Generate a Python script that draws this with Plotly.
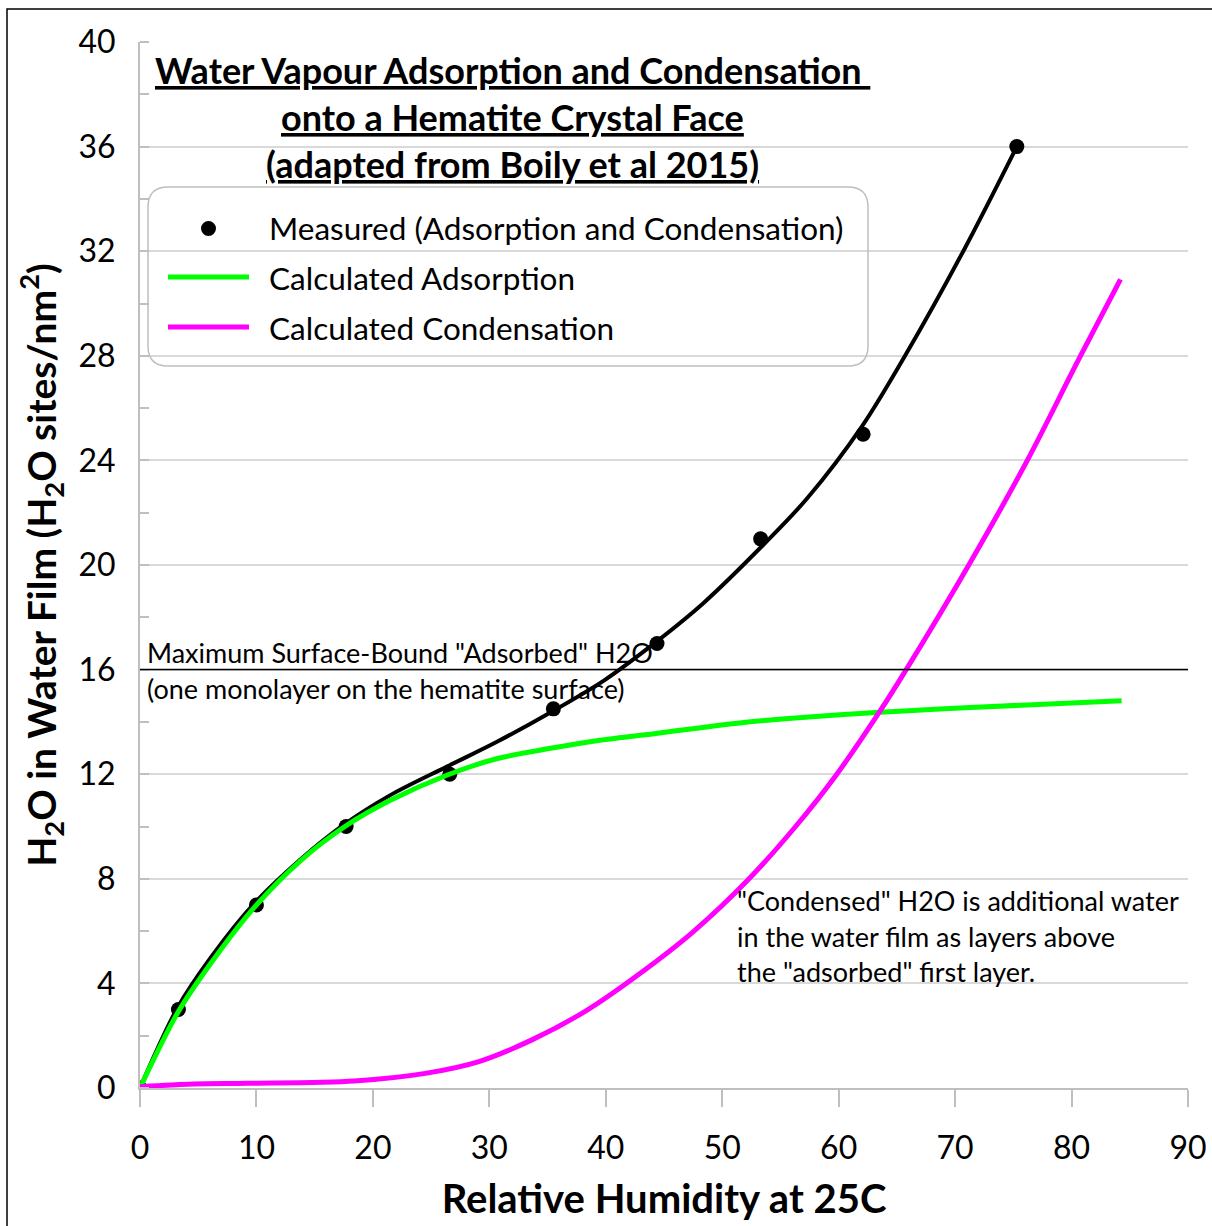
import plotly.graph_objects as go

# Measured water uptake (Adsorption and Condensation)
rh_measured = [0, 3.3, 10.0, 17.7, 26.6, 35.5, 44.4, 53.3, 62.1, 75.3]
h2o_measured = [0, 3.0, 7.0, 10.0, 12.0, 14.5, 17.0, 21.0, 25.0, 36.0]

# Smoothed curve through the measured uptake
rh_trend = [0, 3.2, 6.1, 9.8, 13.8, 17.6, 21.5, 26.4, 30.7, 35.4, 39.9, 44.3,
            48.4, 53.7, 57.3, 62.0, 65.7, 70.7, 75.3]
h2o_trend = [0, 3.05, 5.0, 7.05, 8.75, 10.1, 11.2, 12.3, 13.25, 14.4, 15.6,
             17.05, 18.55, 20.85, 22.55, 25.3, 28.0, 32.0, 36.0]

# Calculated adsorption
rh_ads = [0, 3.2, 6.1, 9.8, 13.8, 17.6, 21.5, 26.4, 30.7, 35.4, 39.5, 44.3,
          48.0, 51.3, 55.4, 63.2, 71.3, 84.3]
h2o_ads = [0, 2.85, 4.78, 6.9, 8.7, 10.0, 11.0, 11.97, 12.6, 13.0, 13.3,
           13.56, 13.77, 13.95, 14.12, 14.36, 14.55, 14.81]

# Calculated condensation
rh_cond = [0, 4.6, 9.2, 18.4, 24.5, 29.1, 33.7, 38.3, 42.7, 47.45, 52.2, 56.3,
           59.84, 63.6, 65.8, 71.3, 76.2, 80.6, 84.2]
h2o_cond = [0.05, 0.15, 0.18, 0.27, 0.56, 1.01, 1.85, 2.95, 4.3, 5.95, 7.95,
            10.0, 12.0, 14.45, 16.0, 20.1, 24.0, 27.85, 30.92]

monolayer = 16

x_ticks = list(range(0, 91, 10))
y_ticks = list(range(0, 41, 4))

title_lines = [
    "Water Vapour Adsorption and Condensation ",
    "onto a Hematite Crystal Face",
    "(adapted from Boily et al 2015)",
]
legend_names = [
    "Measured (Adsorption and Condensation)",
    "Calculated Adsorption",
    "Calculated Condensation",
]
monolayer_lines = [
    'Maximum Surface-Bound "Adsorbed" H2O',
    "(one monolayer on the hematite surface)",
]
note_lines = [
    '"Condensed" H2O is additional water',
    "in the water film as layers above",
    'the "adsorbed" first layer.',
]

FONT = "Lato"
W, H = 1212, 1226
L, R, T, B = 140, 24, 42, 138
PW, PH = W - L - R, H - T - B


def xp(px):
    return (px - L) / PW


def yp(py):
    return (H - B - py) / PH


fig = go.Figure()

fig.add_trace(go.Scatter(
    x=rh_trend, y=h2o_trend, mode="lines",
    line=dict(color="black", width=4, shape="spline", smoothing=0.9),
    showlegend=False, hoverinfo="skip"))
fig.add_trace(go.Scatter(
    x=rh_measured, y=h2o_measured, mode="markers", name=legend_names[0],
    marker=dict(color="black", size=15), showlegend=False))
fig.add_trace(go.Scatter(
    x=rh_ads, y=h2o_ads, mode="lines", name=legend_names[1],
    line=dict(color="#00ff00", width=5, shape="spline", smoothing=0.9), showlegend=False))
fig.add_trace(go.Scatter(
    x=rh_cond, y=h2o_cond, mode="lines", name=legend_names[2],
    line=dict(color="#ff00ff", width=5, shape="spline", smoothing=0.9), showlegend=False))

shapes = []
annotations = []

# outer frame
shapes.append(dict(type="rect", xref="paper", yref="paper",
                   x0=xp(7), y0=yp(9), x1=xp(W + 20), y1=yp(H + 20),
                   line=dict(color="black", width=1.5), layer="below"))

# monolayer line
shapes.append(dict(type="line", xref="x", yref="y", x0=0, x1=90,
                   y0=monolayer, y1=monolayer, line=dict(color="black", width=1.5)))

# legend box with rounded corners
bx0, by0, bx1, by1, rad = 148, 187, 868, 366, 20
rx, ry = rad / PW, rad / PH
X0, X1, Y0, Y1 = xp(bx0), xp(bx1), yp(by0), yp(by1)
path = (f"M {X0 + rx},{Y0} L {X1 - rx},{Y0} Q {X1},{Y0} {X1},{Y0 - ry} "
        f"L {X1},{Y1 + ry} Q {X1},{Y1} {X1 - rx},{Y1} "
        f"L {X0 + rx},{Y1} Q {X0},{Y1} {X0},{Y1 + ry} "
        f"L {X0},{Y0 - ry} Q {X0},{Y0} {X0 + rx},{Y0} Z")
shapes.append(dict(type="path", xref="paper", yref="paper", path=path,
                   line=dict(color="#bfbfbf", width=1.5)))

# legend symbols
shapes.append(dict(type="circle", xref="paper", yref="paper",
                   x0=xp(201), x1=xp(216), y0=yp(221), y1=yp(236),
                   fillcolor="black", line=dict(color="black", width=0)))
shapes.append(dict(type="line", xref="paper", yref="paper",
                   x0=xp(168), x1=xp(249), y0=yp(277), y1=yp(277),
                   line=dict(color="#00ff00", width=5)))
shapes.append(dict(type="line", xref="paper", yref="paper",
                   x0=xp(168), x1=xp(249), y0=yp(327), y1=yp(327),
                   line=dict(color="#ff00ff", width=5)))

for name, py in zip(legend_names, [228, 278, 328]):
    annotations.append(dict(xref="paper", yref="paper", x=xp(267), y=yp(py),
                            xanchor="left", yanchor="middle", showarrow=False,
                            text=name, font=dict(family=FONT, size=31.5, color="black")))

# chart heading inside the plot
for line, py in zip(title_lines, [70, 117, 164]):
    annotations.append(dict(xref="paper", yref="paper", x=xp(512), y=yp(py),
                            xanchor="center", yanchor="middle", showarrow=False,
                            text=f"<b><u>{line}</u></b>",
                            font=dict(family=FONT, size=36, color="black")))

# monolayer labels
for line, py in zip(monolayer_lines, [653, 688]):
    annotations.append(dict(xref="paper", yref="paper", x=xp(145), y=yp(py),
                            xanchor="left", yanchor="middle", showarrow=False,
                            text=line, font=dict(family=FONT, size=27, color="black")))

# condensation note
for line, py in zip(note_lines, [900, 936, 971]):
    annotations.append(dict(xref="paper", yref="paper", x=xp(735), y=yp(py),
                            xanchor="left", yanchor="middle", showarrow=False,
                            text=line, font=dict(family=FONT, size=27, color="black")))

fig.update_layout(
    width=W, height=H,
    margin=dict(l=L, r=R, t=T, b=B, pad=0),
    paper_bgcolor="white", plot_bgcolor="white",
    font=dict(family=FONT, color="black"),
    showlegend=False,
    shapes=shapes, annotations=annotations,
    xaxis=dict(
        range=[0, 90], tickvals=x_ticks, showgrid=False, zeroline=False,
        automargin=False,
        showline=True, linecolor="#bfbfbf", linewidth=2,
        ticks="outside", ticklen=17, tickwidth=2, tickcolor="#bfbfbf",
        ticklabelstandoff=14,
        tickfont=dict(family=FONT, size=32, color="black"),
        title=dict(text="<b>Relative Humidity at 25C</b>", standoff=20,
                   font=dict(family=FONT, size=40, color="black")),
    ),
    yaxis=dict(
        range=[0, 40], tickvals=y_ticks, showgrid=True, gridcolor="#d9d9d9", gridwidth=2,
        zeroline=False, showline=True, linecolor="#bfbfbf", linewidth=2,
        automargin=False,
        ticks="", ticklabelstandoff=16,
        minor=dict(dtick=2, ticks="inside", ticklen=9, tickwidth=2,
                   tickcolor="#bfbfbf", showgrid=False),
        tickfont=dict(family=FONT, size=32, color="black"),
        title=dict(text="<b>H<sub>2</sub>O in Water Film (H<sub>2</sub>O sites/nm<sup>2</sup>)</b>",
                   standoff=10, font=dict(family=FONT, size=39, color="black")),
    ),
)

fig.write_html("out.html")
